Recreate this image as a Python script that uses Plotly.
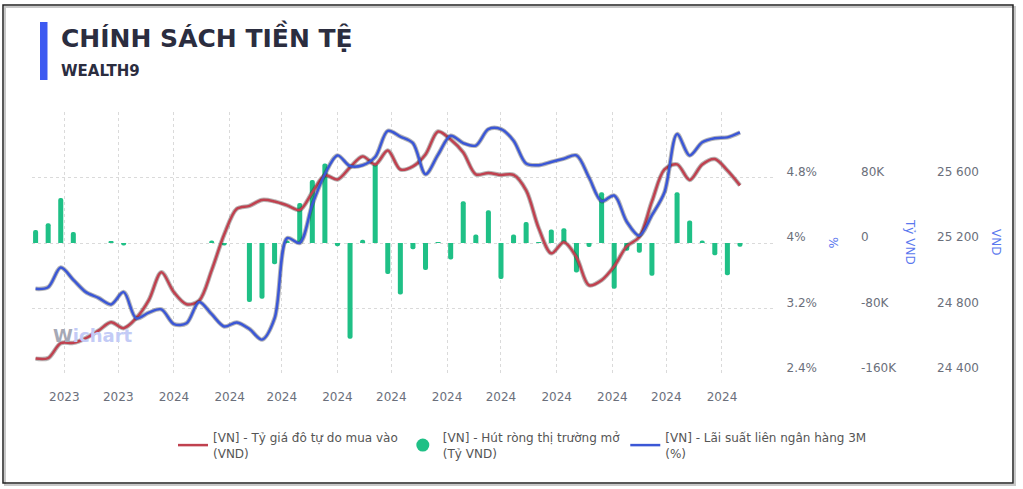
import plotly.graph_objects as go
import pandas as pd

# ---------------- data ----------------
week_start = "2023-10-16"
n_weeks = 57
weeks = pd.date_range(week_start, periods=n_weeks, freq="7D")

# [VN] - Tỷ giá đô tự do mua vào (VND)
ty_gia = [24494, 24497, 24588, 24590, 24619, 24665, 24716, 24680, 24741, 24851,
          25021, 24899, 24826, 24848, 25034, 25253, 25409, 25427, 25463, 25454,
          25430, 25402, 25509, 25613, 25588, 25662, 25729, 25680, 25765, 25649,
          25668, 25741, 25881, 25832, 25753, 25619, 25628, 25616, 25616, 25521,
          25290, 25137, 25204, 25113, 24942, 24973, 25058, 25180, 25237, 25454,
          25649, 25680, 25585, 25680, 25713, 25643, 25552]

# [VN] - Hút ròng thị trường mở (Tỷ VND)
hut_rong = [16000, 24000, 55000, 13500, 0, 0, 2000, -3000, 0, 0,
            0, 0, 0, 0, 3000, -3000, 0, -72000, -68000, -26000,
            3000, 49000, 77000, 97000, -4000, -117000, 4000, 97000, -38000, -63000,
            -7500, -33000, 1000, -20000, 51000, 10500, 40000, -44000, 10500, 25500,
            500, 16500, 18000, -36000, -5000, 62000, -56000, -9500, -12000, -40000,
            0, 62000, 27500, 3000, -15000, -39500, -4500]

# [VN] - Lãi suất liên ngân hàng 3M (%)
lai_suat = [3.44, 3.46, 3.70, 3.55, 3.40, 3.33, 3.25, 3.40, 3.08, 3.15,
            3.19, 3.01, 3.02, 3.28, 3.13, 2.98, 3.03, 2.95, 2.82, 3.08,
            4.06, 4.00, 4.47, 4.84, 5.07, 4.94, 4.95, 5.05, 5.37, 5.30,
            5.22, 4.84, 5.08, 5.31, 5.22, 5.19, 5.39, 5.39, 5.25, 4.97,
            4.95, 4.99, 5.03, 5.07, 4.80, 4.51, 4.58, 4.26, 4.09, 4.34,
            4.62, 5.33, 5.07, 5.23, 5.28, 5.29, 5.35]

series_names = ["[VN] - Tỷ giá đô tự do mua vào<br>(VND)",
                "[VN] - Hút ròng thị trường mở<br>(Tỷ VND)",
                "[VN] - Lãi suất liên ngân hàng 3M<br>(%)"]

pct_ticks = [2.4, 3.2, 4.0, 4.8, 5.6]
pct_labels = ["2.4%", "3.2%", "4%", "4.8%", ""]
bar_ticks = [-160000, -80000, 0, 80000, 160000]
bar_labels = ["-160K", "-80K", "0", "80K", ""]
vnd_ticks = [24400, 24800, 25200, 25600, 26000]
vnd_labels = ["24 400", "24 800", "25 200", "25 600", ""]

title_text = "CHÍNH SÁCH TIỀN TỆ"
subtitle_text = "WEALTH9"

# ---------------- layout helpers ----------------
W, H = 1023, 489
ML, MR, MT, MB = 32, 10, 112, 115
PW = W - ML - MR
PH = H - MT - MB


def px(x):
    return (x - ML) / PW


def py(y):
    return (H - MB - y) / PH


RED = "#c0414f"
BLUE = "#3b57d6"
GREEN = "#1fc086"
TICK = "#6b6f7b"
AXT = "#5a78ee"
FONT = "DejaVu Sans"

fig = go.Figure()

# red line (legend first)
fig.add_trace(go.Scatter(
    x=weeks, y=ty_gia, yaxis="y2", mode="lines", showlegend=False, hoverinfo="skip",
    line=dict(color="rgba(40,30,30,0.33)", width=4.5, shape="spline", smoothing=0.9),
))
fig.add_trace(go.Scatter(
    x=weeks, y=ty_gia, yaxis="y2", mode="lines", name=series_names[0],
    line=dict(color=RED, width=2.5, shape="spline", smoothing=0.9),
))

# bars (legend shown with a circle marker entry)
fig.add_trace(go.Bar(
    x=weeks, y=hut_rong, name=series_names[1], yaxis="y", showlegend=False,
    legendgroup="hut", marker=dict(color=GREEN, cornerradius=3, line=dict(width=0)),
))
fig.add_trace(go.Scatter(
    x=[None], y=[None], yaxis="y", mode="markers", name=series_names[1],
    legendgroup="hut", marker=dict(color=GREEN, size=13, symbol="circle"),
))

# blue line
fig.add_trace(go.Scatter(
    x=weeks, y=lai_suat, yaxis="y3", mode="lines", showlegend=False, hoverinfo="skip",
    line=dict(color="rgba(30,30,40,0.33)", width=4.5, shape="spline", smoothing=0.9),
))
fig.add_trace(go.Scatter(
    x=weeks, y=lai_suat, yaxis="y3", mode="lines", name=series_names[2],
    line=dict(color=BLUE, width=2.5, shape="spline", smoothing=0.9),
))

tickfont = dict(family=FONT, size=12, color=TICK)

fig.update_layout(
    width=W, height=H,
    margin=dict(l=ML, r=MR, t=MT, b=MB),
    paper_bgcolor="white", plot_bgcolor="white",
    font=dict(family=FONT, size=12, color="#555"),
    separators=". ",
    bargap=0.6,
    showlegend=True,
    legend=dict(
        orientation="h", x=px(173), xanchor="left", y=py(423), yanchor="top",
        traceorder="normal", font=dict(family=FONT, size=12, color="#555"),
        itemwidth=30, bgcolor="rgba(0,0,0,0)",
    ),
    xaxis=dict(
        domain=[0, px(775)], type="date",
        range=["2023-10-14", "2024-11-30 12:00"],
        tick0="2023-11-01", dtick="M1", tickformat="%Y",
        showgrid=True, gridcolor="#dadada", griddash="dot", gridwidth=1,
        showline=False, zeroline=False, ticks="",
        tickfont=tickfont, ticklabelstandoff=14,
    ),
    yaxis=dict(
        range=[-160000, 160000], tickvals=bar_ticks, ticktext=bar_labels,
        side="right", anchor="free", position=px(860),
        showgrid=True, gridcolor="#dadada", griddash="dot", gridwidth=1,
        zeroline=False, showline=False, ticks="", tickfont=tickfont,
        ticklabelshift=-6,
    ),
    yaxis2=dict(
        range=[24400, 26000], tickvals=vnd_ticks, ticktext=vnd_labels,
        overlaying="y", side="right", anchor="free", position=px(936),
        showgrid=False, zeroline=False, showline=False, ticks="", tickfont=tickfont,
        ticklabelshift=-6,
    ),
    yaxis3=dict(
        range=[2.4, 5.6], tickvals=pct_ticks, ticktext=pct_labels,
        overlaying="y", side="right", anchor="free", position=px(785.5),
        showgrid=False, zeroline=False, showline=False, ticks="", tickfont=tickfont,
        ticklabelshift=-6,
    ),
)

shapes = [
    # frame shadow + frame
    dict(type="rect", xref="paper", yref="paper", x0=px(5), x1=px(1015), y0=py(485), y1=py(7),
         line=dict(color="#c8c8c8", width=2), layer="below"),
    dict(type="rect", xref="paper", yref="paper", x0=px(3), x1=px(1013), y0=py(483), y1=py(5),
         line=dict(color="#222", width=1.5), layer="below"),
    # title accent bar
    dict(type="rect", xref="paper", yref="paper", x0=px(40), x1=px(47.5), y0=py(80), y1=py(22),
         line=dict(width=0), fillcolor="#3d5af1"),
]

annotations = [
    dict(text=f"<b>{title_text}</b>", x=px(59), y=py(37), xref="paper", yref="paper",
         xanchor="left", yanchor="middle", showarrow=False,
         font=dict(family=FONT, size=25, color="#2b2d3f")),
    dict(text=f"<b>{subtitle_text}</b>", x=px(59), y=py(71), xref="paper", yref="paper",
         xanchor="left", yanchor="middle", showarrow=False,
         font=dict(family=FONT, size=15, color="#2b2d3f")),
    dict(text="<b>W<span style='color:#c3cbf6'>ichart</span></b>", x=px(51), y=py(335),
         xref="paper", yref="paper", xanchor="left", yanchor="middle", showarrow=False,
         font=dict(family=FONT, size=18, color="#a6a9b6")),
    dict(text="%", x=px(833), y=py(242), xref="paper", yref="paper", textangle=90,
         xanchor="center", yanchor="middle",
         showarrow=False, font=dict(family=FONT, size=12, color=AXT)),
    dict(text="Tỷ VND", x=px(910), y=py(242), xref="paper", yref="paper", textangle=90,
         xanchor="center", yanchor="middle",
         showarrow=False, font=dict(family=FONT, size=12, color=AXT)),
    dict(text="VND", x=px(996), y=py(242), xref="paper", yref="paper", textangle=90,
         xanchor="center", yanchor="middle",
         showarrow=False, font=dict(family=FONT, size=12, color=AXT)),
]

fig.update_layout(shapes=shapes, annotations=annotations)

fig.write_html("out.html")
